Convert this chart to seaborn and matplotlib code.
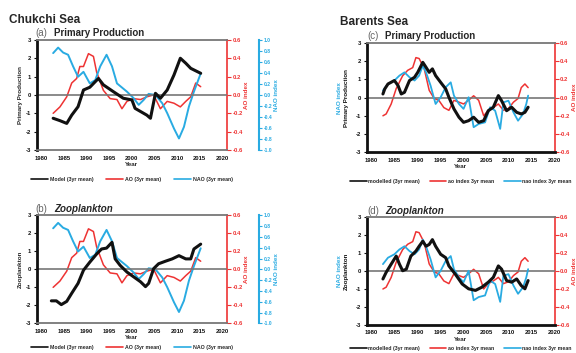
import numpy as np
import pandas as pd
import matplotlib
matplotlib.use("Agg")
import matplotlib.pyplot as plt
import seaborn as sns

sns.set_theme(style="white")
plt.rcParams['font.family'] = ['Liberation Sans', 'DejaVu Sans']

# ---------------- data ----------------
# Chukchi Sea (a) primary production
chuk_pp_year = [1982.6, 1984.1, 1985.6, 1986.7, 1988.1, 1989.3, 1990.7, 1992.6, 1993.7,
                1995.9, 1998.1, 2000.0, 2000.7, 2003.3, 2004.1, 2005.2, 2006.3, 2007.8,
                2009.3, 2010.7, 2011.9, 2013.0, 2015.2]
chuk_pp = [-1.27, -1.4, -1.55, -1.1, -0.64, 0.27, 0.42, 0.9, 0.55,
           0.18, -0.18, -0.27, -0.73, -1.1, -1.27, 0.09, -0.18, 0.27,
           1.09, 2.0, 1.73, 1.45, 1.18]
# Chukchi Sea (b) zooplankton
chuk_zoo_year = [1982.2, 1983.3, 1984.4, 1985.6, 1986.7, 1988.1, 1989.3, 1990.7, 1992.2,
                 1993.3, 1994.4, 1995.6, 1996.3, 1997.4, 1998.9, 2000.4, 2001.9, 2003.0,
                 2003.7, 2004.8, 2005.9, 2007.4, 2008.9, 2010.4, 2011.9, 2013.0, 2013.7, 2015.2]
chuk_zoo = [-1.75, -1.75, -1.96, -1.78, -1.33, -0.78, -0.05, 0.4, 0.85,
            1.13, 1.18, 1.5, 0.58, 0.22, -0.15, -0.42, -0.69, -0.96,
            -0.78, 0.04, 0.31, 0.45, 0.58, 0.76, 0.58, 0.58, 1.13, 1.4]
# Chukchi AO index (3yr mean)
chuk_ao_year = [1982.6, 1984.1, 1985.6, 1986.7, 1987.8, 1988.5, 1989.3, 1990.4, 1991.5,
                1992.2, 1993.7, 1995.2, 1996.7, 1997.8, 1998.9, 2000.4, 2001.9, 2003.3,
                2004.8, 2006.3, 2007.8, 2009.3, 2010.7, 2011.9, 2013.0, 2014.1, 2015.2]
chuk_ao = [-0.2, -0.13, -0.02, 0.13, 0.18, 0.31, 0.31, 0.45, 0.42,
           0.25, 0.05, -0.04, -0.05, -0.15, -0.07, -0.04, -0.05, -0.02,
           0.0, -0.15, -0.07, -0.09, -0.13, -0.07, -0.02, 0.13, 0.09]
# Chukchi NAO index (3yr mean)
chuk_nao_year = [1982.6, 1983.7, 1984.8, 1985.9, 1987.0, 1988.1, 1989.3, 1990.7, 1991.9,
                 1993.0, 1994.4, 1995.6, 1996.7, 1998.9, 2000.4, 2001.5, 2002.6, 2003.7,
                 2005.2, 2006.7, 2007.8, 2009.3, 2010.4, 2011.5, 2012.6, 2013.7, 2015.2]
chuk_nao = [0.76, 0.86, 0.77, 0.73, 0.52, 0.33, 0.42, 0.21, 0.27,
            0.52, 0.73, 0.52, 0.21, 0.06, -0.06, -0.18, -0.09, 0.02,
            0.0, -0.15, -0.33, -0.61, -0.79, -0.58, -0.21, 0.06, 0.39]

# Barents Sea (c) primary production
bar_pp_year = [1982.5, 1982.9, 1983.6, 1985.0, 1985.8, 1986.5, 1987.2, 1988.3, 1989.4,
               1990.1, 1991.2, 1991.9, 1992.6, 1993.3, 1994.0, 1995.1, 1996.2, 1996.9,
               1998.0, 1999.1, 2000.1, 2001.2, 2002.3, 2003.4, 2004.5, 2005.5, 2006.6,
               2007.7, 2008.4, 2009.5, 2010.6, 2011.7, 2012.7, 2013.5, 2014.2]
bar_pp = [0.2, 0.48, 0.75, 0.94, 0.66, 0.2, 0.29, 0.94, 1.12,
          1.39, 1.94, 1.67, 1.39, 1.58, 1.21, 0.84, 0.48, 0.02,
          -0.62, -1.08, -1.36, -1.27, -1.08, -1.36, -1.27, -0.72, -0.53,
          0.11, -0.17, -0.72, -0.53, -0.81, -0.9, -0.81, -0.53]
# Barents Sea (d) zooplankton
bar_zoo_year = [1982.5, 1983.2, 1984.3, 1985.4, 1986.1, 1986.8, 1987.6, 1988.6, 1989.7,
                1990.4, 1991.2, 1991.9, 1992.6, 1993.3, 1994.0, 1995.1, 1996.2, 1996.9,
                1998.3, 1999.8, 2001.2, 2002.7, 2004.1, 2005.5, 2006.6, 2007.7, 2008.4,
                2009.5, 2010.6, 2011.7, 2012.7, 2013.5, 2014.2]
bar_zoo = [-0.44, -0.07, 0.39, 0.84, 0.39, 0.02, 0.11, 0.84, 1.12,
           1.39, 1.67, 1.39, 1.49, 1.76, 1.39, 0.94, 0.75, 0.29,
           -0.17, -0.72, -0.99, -1.08, -0.9, -0.62, -0.35, 0.29, 0.11,
           -0.53, -0.62, -0.44, -0.81, -0.99, -0.53]
# Barents AO index (3yr mean)
bar_ao_year = [1982.5, 1983.2, 1984.3, 1985.4, 1986.8, 1987.9, 1989.0, 1989.7, 1990.4,
               1991.5, 1992.6, 1993.7, 1994.7, 1995.8, 1996.9, 1998.0, 1999.1, 2000.1,
               2001.2, 2002.3, 2003.4, 2004.5, 2005.5, 2006.6, 2007.7, 2008.8, 2009.9,
               2011.0, 2012.0, 2012.7, 2013.5, 2014.2]
bar_ao = [-0.2, -0.18, -0.07, 0.1, 0.24, 0.30, 0.33, 0.44, 0.43,
          0.32, 0.08, -0.01, -0.03, -0.11, -0.14, -0.03, -0.05, -0.07,
          -0.03, 0.02, -0.03, -0.2, -0.14, -0.11, -0.07, -0.14, -0.12,
          -0.05, -0.01, 0.11, 0.15, 0.11]
# Barents NAO index (3yr mean, on left axis)
bar_nao_year = [1982.5, 1983.6, 1985.0, 1986.1, 1987.2, 1988.3, 1989.4, 1990.4, 1991.2,
                1991.9, 1992.9, 1994.0, 1995.1, 1996.2, 1997.3, 1998.0, 1999.1, 2000.1,
                2001.2, 2002.3, 2003.4, 2004.8, 2005.9, 2007.0, 2008.1, 2008.8, 2009.9,
                2011.0, 2012.0, 2013.1, 2013.8, 2014.2]
bar_nao = [0.39, 0.75, 0.94, 1.21, 1.39, 1.12, 0.94, 1.21, 1.76,
           1.39, 0.66, -0.35, 0.02, 0.57, 0.84, 0.11, -0.35, -0.62,
           0.02, -1.63, -1.45, -1.36, -0.53, -0.72, -1.72, -0.26, -0.17,
           -0.81, -1.27, -0.9, -0.35, 0.11]

x_ticks = [1980, 1985, 1990, 1995, 2000, 2005, 2010, 2015, 2020]
left_ticks = [-3, -2, -1, 0, 1, 2, 3]
ao_ticks = [-0.6, -0.4, -0.2, 0.0, 0.2, 0.4, 0.6]
nao_ticks = [-1.0, -0.8, -0.6, -0.4, -0.2, 0.0, 0.2, 0.4, 0.6, 0.8, 1.0]

legend_chuk = ["Model (3yr mean)", "AO (3yr mean)", "NAO (3yr mean)"]
legend_bar = ["modelled (3yr mean)", "ao index 3yr mean", "nao index 3yr mean"]

BLACK = "#111111"
RED = "#ee3333"
BLUE = "#29abe2"
GRAY = "#777777"

fig = plt.figure(figsize=(5.76, 3.53), dpi=100)

TICK_FS = 4.2


def base_axes(rect, right_panel):
    ax = fig.add_axes(rect)
    ax.set_xlim(1979, 2021 if not right_panel else 2020)
    ax.set_ylim(-3, 3)
    ax.set_xticks(x_ticks)
    ax.set_yticks(left_ticks)
    ax.set_xticklabels([str(t) for t in x_ticks], fontsize=TICK_FS, fontweight='bold')
    ax.set_yticklabels([str(t) for t in left_ticks], fontsize=TICK_FS, fontweight='bold')
    ax.tick_params(axis='both', direction='out', length=2.5, width=0.8, pad=1.5,
                   left=True, bottom=False, colors=BLACK)
    ax.spines['left'].set_linewidth(2.0)
    ax.spines['left'].set_color(BLACK)
    ax.spines['top'].set_color(GRAY)
    ax.spines['top'].set_linewidth(1.3)
    ax.spines['right'].set_visible(False)
    if right_panel:
        ax.spines['bottom'].set_color(BLACK)
        ax.spines['bottom'].set_linewidth(2.0)
    else:
        ax.spines['bottom'].set_color(GRAY)
        ax.spines['bottom'].set_linewidth(1.3)
    ax.axhline(0, color=GRAY, lw=1.2, zorder=1)
    ax.set_xlabel("Year", fontsize=4.5, fontweight='bold', labelpad=1)
    ax.set_ylabel("")
    ax.grid(False)
    return ax


def red_axis(ax):
    axr = ax.twinx()
    axr.set_ylim(-0.6, 0.6)
    axr.set_yticks(ao_ticks)
    axr.set_yticklabels([f"{t:.1f}" for t in ao_ticks], fontsize=TICK_FS, fontweight='bold', color=RED)
    axr.tick_params(axis='y', direction='out', length=3, width=0.8, pad=1, colors=RED)
    for s in ['left', 'top', 'bottom']:
        axr.spines[s].set_visible(False)
    axr.spines['right'].set_color(RED)
    axr.spines['right'].set_linewidth(1.2)
    axr.grid(False)
    return axr


def blue_axis(ax):
    axb = ax.twinx()
    axb.spines['right'].set_position(('axes', 1.17))
    axb.set_ylim(-1.0, 1.0)
    axb.set_yticks(nao_ticks)
    axb.set_yticklabels([f"{t:.1f}" for t in nao_ticks], fontsize=3.6, fontweight='bold', color=BLUE)
    axb.tick_params(axis='y', direction='out', length=2.5, width=0.8, pad=1, colors=BLUE)
    for s in ['left', 'top', 'bottom']:
        axb.spines[s].set_visible(False)
    axb.spines['right'].set_color(BLUE)
    axb.spines['right'].set_linewidth(1.5)
    axb.grid(False)
    return axb


def line(ax, xs, ys, color, lw, label=None, z=3):
    sns.lineplot(x=xs, y=ys, ax=ax, color=color, lw=lw, label=label, legend=False, zorder=z)


def panel_title(x, y, letter, text, italic=False):
    fig.text(x, y, f"({letter})", fontsize=7, color="#666666", va='bottom', ha='left')
    fig.text(x + 0.032, y, text, fontsize=7, fontweight='bold', va='bottom', ha='left',
             style='italic' if italic else 'normal')


def add_legend(ax, handles, labels, y, spacing):
    ax.legend(handles, labels, loc='upper center', bbox_to_anchor=(0.5, y), ncol=3,
              frameon=False, handlelength=3.2, columnspacing=spacing,
              handletextpad=0.3, borderaxespad=0, borderpad=0,
              prop={'weight': 'bold', 'size': 3.8})


rects = {
    'a': [0.064, 0.575, 0.330, 0.312],
    'b': [0.064, 0.084, 0.330, 0.306],
    'c': [0.637, 0.569, 0.326, 0.309],
    'd': [0.637, 0.080, 0.326, 0.304],
}

# ---------------- Chukchi Sea ----------------
for key, (yr, val, ylabel, ly) in {
    'a': (chuk_pp_year, chuk_pp, "Primary Production", -0.245),
    'b': (chuk_zoo_year, chuk_zoo, "Zooplankton", -0.20),
}.items():
    ax = base_axes(rects[key], False)
    axr = red_axis(ax)
    axb = blue_axis(ax)
    line(axr, chuk_ao_year, chuk_ao, RED, 1.1)
    line(axb, chuk_nao_year, chuk_nao, BLUE, 1.4)
    line(ax, yr, val, BLACK, 2.2)
    ax.set_zorder(axb.get_zorder() + 1)
    ax.patch.set_visible(False)
    ax.set_ylabel(ylabel, fontsize=4.5, fontweight='bold', labelpad=2)
    axr.set_ylabel("AO index", fontsize=4.5, fontweight='bold', color=RED, labelpad=0.5)
    axb.set_ylabel("NAO index", fontsize=4.5, fontweight='bold', color=BLUE, labelpad=1)
    h = [plt.Line2D([], [], color=c, lw=1.2) for c in (BLACK, RED, BLUE)]
    add_legend(ax, h, legend_chuk, ly, 2.5)

# ---------------- Barents Sea ----------------
for key, (yr, val, ylabel, ly) in {
    'c': (bar_pp_year, bar_pp, "Primary Production", -0.245),
    'd': (bar_zoo_year, bar_zoo, "Zooplankton", -0.20),
}.items():
    ax = base_axes(rects[key], True)
    axr = red_axis(ax)
    line(axr, bar_ao_year, bar_ao, RED, 1.1)
    line(ax, bar_nao_year, bar_nao, BLUE, 1.3)
    line(ax, yr, val, BLACK, 2.2)
    ax.set_zorder(axr.get_zorder() + 1)
    ax.patch.set_visible(False)
    axr.set_ylabel("AO index", fontsize=4.5, fontweight='bold', color=RED, labelpad=1)
    x0 = rects[key][0]
    yc = rects[key][1] + rects[key][3] / 2
    fig.text(x0 - 0.048, yc, "NAO index", rotation=90, fontsize=4.5, fontweight='bold',
             color=BLUE, ha='center', va='center')
    fig.text(x0 - 0.036, yc, ylabel, rotation=90, fontsize=4.5, fontweight='bold',
             color=BLACK, ha='center', va='center')
    h = [plt.Line2D([], [], color=c, lw=1.2) for c in (BLACK, RED, BLUE)]
    add_legend(ax, h, legend_bar, ly, 1.8)

# ---------------- titles ----------------
fig.text(0.015, 0.925, "Chukchi Sea", fontsize=8.5, fontweight='bold', va='bottom')
fig.text(0.59, 0.92, "Barents Sea", fontsize=8.5, fontweight='bold', va='bottom')
panel_title(0.062, 0.893, 'a', "Primary Production")
panel_title(0.062, 0.394, 'b', "Zooplankton", italic=True)
panel_title(0.637, 0.884, 'c', "Primary Production")
panel_title(0.637, 0.389, 'd', "Zooplankton", italic=True)

fig.savefig("out.png", dpi=100)
